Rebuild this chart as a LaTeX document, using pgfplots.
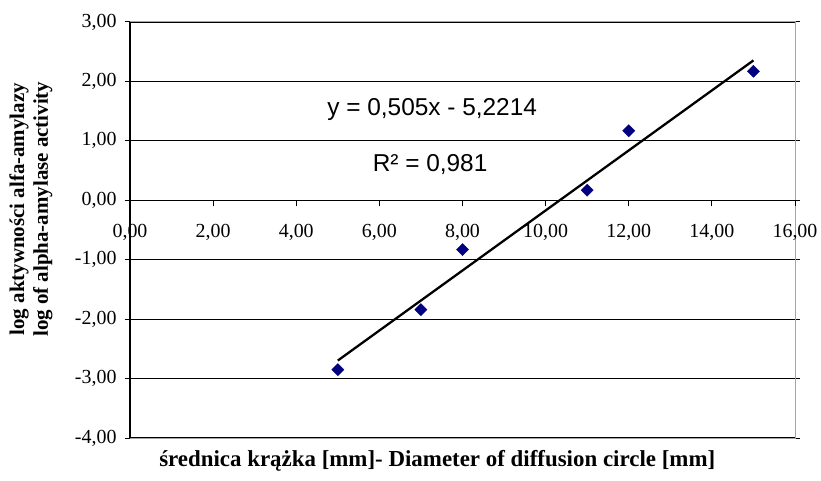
\documentclass[border=0pt]{standalone}
\usepackage{pgfplots}
\pgfplotsset{compat=1.18}
\usepackage{fontspec}
\setmainfont{Liberation Serif}
\newfontfamily\arial{Liberation Sans}
\definecolor{navy}{RGB}{0,0,128}
\begin{document}
\begin{tikzpicture}
\useasboundingbox (0,0) rectangle (821bp,481bp);
\begin{axis}[
  at={(130bp,43bp)}, anchor=south west,
  scale only axis, width=665bp, height=416bp,
  xmin=0, xmax=16, ymin=-4, ymax=3,
  xtick=\empty,
  ytick={-4,-3,...,3},
  ymajorgrids, grid style={black, line width=1.1pt},
  axis line style={gray!70, line width=1pt},
  ytick style={black, line width=1pt},
  tick align=outside, major tick length=5bp,
  yticklabel style={font=\fontsize{20}{22}\selectfont, xshift=-5bp},
  /pgf/number format/.cd, fixed, fixed zerofill, precision=2, use comma, assume math mode=true,
  /pgfplots/.cd,
  ylabel={\bfseries log aktywności alfa-amylazy\\\bfseries log of alpha-amylase activity},
  ylabel style={font=\fontsize{21}{24}\selectfont, align=center, at={(rel axis cs:-0.149,0.55)}, anchor=center, rotate=0},
  xlabel={\bfseries średnica krążka [mm]- Diameter of diffusion circle [mm]},
  xlabel style={font=\fontsize{23}{25}\selectfont, at={(rel axis cs:0.462,-0.056)}, anchor=center},
  clip=false,
]
\addplot[only marks, mark=square*, mark size=4.3bp, mark options={rotate=45, fill=navy, draw=navy}, color=navy]
  coordinates {(5,-2.85) (7,-1.84) (8,-0.83) (11,0.17) (12,1.17) (15,2.17)};
\addplot[black, line width=2.3pt, no marks] coordinates {(5,-2.6964) (15,2.3536)};
\node[font=\arial\fontsize{24.5}{26}\selectfont] at (axis cs:7.27,1.53) {y = 0,505x - 5,2214};
\node[font=\arial\fontsize{24.5}{26}\selectfont] at (axis cs:7.22,0.60) {R² = 0,981};
\end{axis}
\begin{axis}[
  at={(130bp,43bp)}, anchor=south west,
  scale only axis, width=665bp, height=416bp,
  xmin=0, xmax=16, ymin=-4, ymax=3,
  axis x line=middle, axis y line=left,
  hide obscured x ticks=false,
  x axis line style={-, black, line width=1.5pt},
  y axis line style={-, black, line width=1.5pt},
  xtick={0,2,...,16}, ytick=\empty,
  x tick style={black, line width=1pt}, xtick align=outside,
  major tick length=6bp,
  xticklabel style={font=\fontsize{20}{22}\selectfont, anchor=center, yshift=-26bp},
  /pgf/number format/.cd, fixed, fixed zerofill, precision=2, use comma, assume math mode=true,
  /pgfplots/.cd,
]
\end{axis}
\end{tikzpicture}
\end{document}
